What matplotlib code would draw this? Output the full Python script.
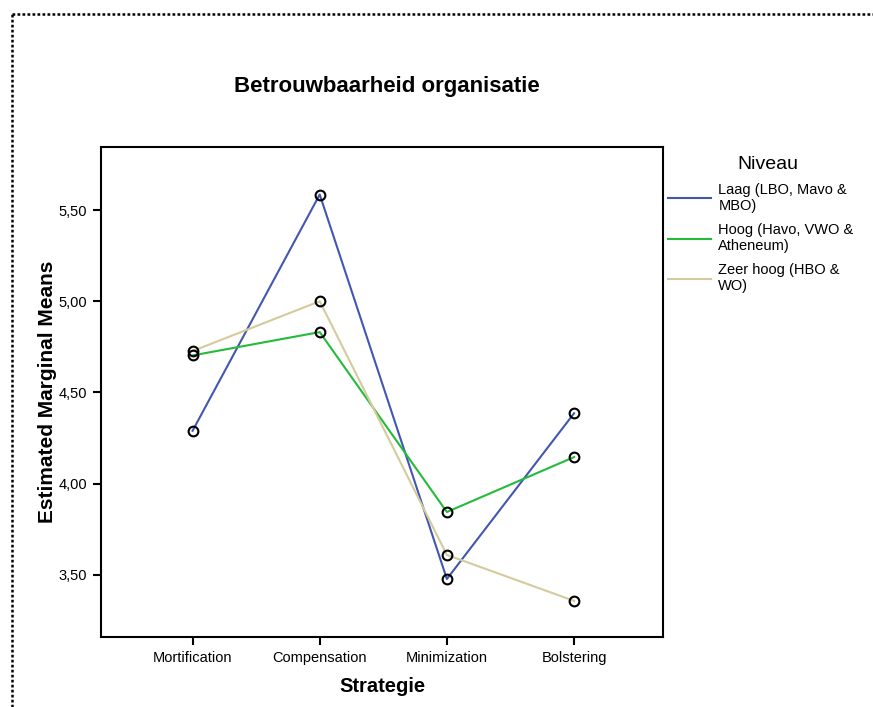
import matplotlib.pyplot as plt
from matplotlib.lines import Line2D
from matplotlib.ticker import FuncFormatter

plt.rcParams["font.family"] = ["Liberation Sans", "DejaVu Sans"]

strategies = ["Mortification", "Compensation", "Minimization", "Bolstering"]
niveau_labels = [
    "Laag (LBO, Mavo &\nMBO)",
    "Hoog (Havo, VWO &\nAtheneum)",
    "Zeer hoog (HBO &\nWO)",
]
laag = [4.29, 5.585, 3.478, 4.386]
hoog = [4.703, 4.831, 3.845, 4.146]
zeer_hoog = [4.727, 5.00, 3.610, 3.358]
colors = ["#4257ae", "#24bb3a", "#d3cb9d"]

fig = plt.figure(figsize=(8.73, 7.07), dpi=100)
ax = fig.add_axes([0.1157, 0.099, 0.6438, 0.693])

x = range(len(strategies))
for values, label, color in zip([laag, hoog, zeer_hoog], niveau_labels, colors):
    ax.plot(x, values, color=color, lw=1.5, label=label)
for values in [laag, hoog, zeer_hoog]:
    ax.plot(x, values, ls="none", marker="o", ms=7, mfc="none",
            mec="black", mew=1.5)

ax.set_xlim(-0.72, 3.70)
ax.set_ylim(3.16, 5.845)
ax.set_yticks([3.5, 4.0, 4.5, 5.0, 5.5])
ax.yaxis.set_major_formatter(FuncFormatter(lambda v, p: f"{v:.2f}".replace(".", ",")))
ax.set_xticks(list(x))
ax.set_xticklabels(strategies)
ax.tick_params(axis="both", direction="out", length=6, width=1.5,
               labelsize=10.5, pad=4)
for s in ax.spines.values():
    s.set_linewidth(1.5)

ax.set_xlabel("Strategie", fontsize=14.5, fontweight="bold", labelpad=9)
ax.set_ylabel("Estimated Marginal Means", fontsize=15, fontweight="bold", labelpad=1)
fig.text(0.443, 0.877, "Betrouwbaarheid organisatie", fontsize=16,
         fontweight="bold", ha="center", va="center")

leg = ax.legend(title="Niveau", loc="upper left",
                bbox_to_anchor=(668 / 873, 1 - 156 / 707),
                bbox_transform=fig.transFigure, frameon=False,
                fontsize=10.5, title_fontsize=14, handlelength=2.95,
                handletextpad=0.5, borderpad=0, borderaxespad=0,
                labelspacing=0.68)
leg.get_title().set_position((7, 0))

# dotted page border
fig.add_artist(Line2D([12 / 873, 1.0], [1 - 14 / 707, 1 - 14 / 707],
                      transform=fig.transFigure, color="black", lw=1.8,
                      ls=(0, (1.1, 0.9))))
fig.add_artist(Line2D([12 / 873, 12 / 873], [0.0, 1 - 14 / 707],
                      transform=fig.transFigure, color="black", lw=1.8,
                      ls=(0, (1.1, 0.9))))

fig.savefig("out.png", dpi=100)
